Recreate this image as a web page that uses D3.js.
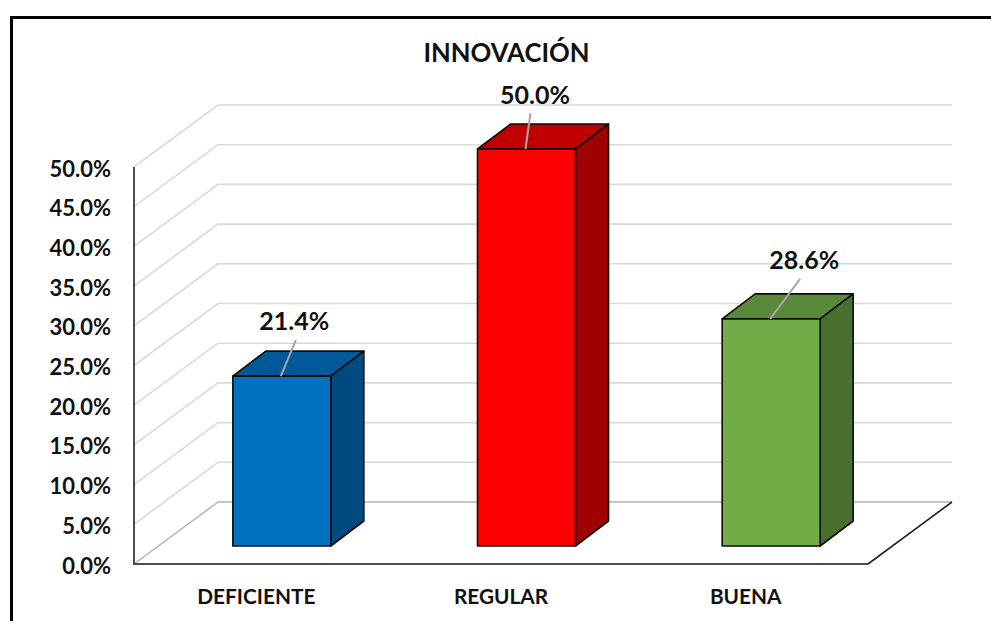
<!DOCTYPE html>
<html><head><meta charset="utf-8">
<script src="https://cdn.jsdelivr.net/npm/d3@7"></script>
<style>html,body{margin:0;padding:0;background:#fff}svg{display:block}text{font-family:Lato,"Open Sans",sans-serif;font-weight:700;fill:#111}</style>
</head><body><div id="c"></div>
<script>
const chartTitle = "INNOVACIÓN";
const categories = ["DEFICIENTE","REGULAR","BUENA"];
const values = [21.4,50.0,28.6];
const valueLabels = ["21.4%","50.0%","28.6%"];
const tickValues = [0,5,10,15,20,25,30,35,40,45,50];
const faceColors = ["#0070c0","#ff0000","#70ad47"];
const topColors = ["#005a9a","#c00000","#5a8a39"];
const sideColors = ["#004a80","#a00000","#4a7030"];

const W=991,H=621;
const svg=d3.select("#c").append("svg").attr("width",W).attr("height",H);
const x0=134,x1=868,yBase=564,yTop=167;
const depthX=84,depthY=-62;
const barDX=33,barDY=-25,barW=98;
const y=d3.scaleLinear().domain([0,50]).range([yBase,yTop]);
const x=d3.scaleBand().domain(categories).range([x0,x1]);
const g=svg.append("g");

// frame
g.append("path").attr("d",`M11.5,${H} V17.5 H${W}`).attr("fill","none").attr("stroke","#000").attr("stroke-width",3);

// gridlines
tickValues.forEach(t=>{
  const yy=y(t);
  g.append("path")
    .attr("d",`M${x0},${yy} L${x0+depthX},${yy+depthY} H${x1+depthX}`)
    .attr("fill","none")
    .attr("stroke",t===0?"#b4b4b4":"#d9d9d9")
    .attr("stroke-width",t===0?1.5:1.6);
});
// floor edge
g.append("path").attr("d",`M${x1},${yBase} L${x1+depthX},${yBase+depthY}`).attr("fill","none").attr("stroke","#222").attr("stroke-width",1.6);
// axes
g.append("path").attr("d",`M${x0},${yTop} V${yBase} H${x1}`).attr("fill","none").attr("stroke","#4d4d4d").attr("stroke-width",2);

// tick labels
g.selectAll("text.tick").data(tickValues).join("text").attr("class","tick")
  .attr("x",111).attr("y",d=>y(d)+9.5).attr("text-anchor","end").attr("font-size",22)
  .text(d=>d3.format(".1f")(d)+"%");

// category labels
g.selectAll("text.cat").data(categories).join("text").attr("class","cat")
  .attr("x",d=>x(d)+x.bandwidth()/2).attr("y",603.5).attr("text-anchor","middle").attr("font-size",20.8)
  .text(d=>d);

// bars
const barOffset=25.5, floorLift=18;
const leaderTop=[[15,-36],[5,-36],[30,-40]];
const labelPos=[[12.5,-55],[8.5,-54],[33,-58]];
categories.forEach((c,i)=>{
  const cx=x(c)+x.bandwidth()/2+barOffset;
  const l=cx-barW/2,r=cx+barW/2;
  const b=yBase-floorLift;
  const t=b-(yBase-y(values[i]));
  const stroke={stroke:"#0d0d0d","stroke-width":1.6,"stroke-linejoin":"round"};
  const poly=(d,f)=>{const p=g.append("path").attr("d",d).attr("fill",f);Object.entries(stroke).forEach(([k,v])=>p.attr(k,v));};
  poly(`M${l},${t} L${l+barDX},${t+barDY} H${r+barDX} L${r},${t} Z`,topColors[i]);
  poly(`M${r},${t} L${r+barDX},${t+barDY} V${b+barDY} L${r},${b} Z`,sideColors[i]);
  poly(`M${l},${t} H${r} V${b} H${l} Z`,faceColors[i]);
  // leader
  g.append("line").attr("x1",cx-1).attr("y1",t).attr("x2",cx-1+leaderTop[i][0]).attr("y2",t+leaderTop[i][1])
    .attr("stroke","#a6a6a6").attr("stroke-width",2);
  g.append("text").attr("x",cx+labelPos[i][0]).attr("y",t+labelPos[i][1]+8.5).attr("text-anchor","middle")
    .attr("font-size",25).text(valueLabels[i]);
});

// title
g.append("text").attr("x",506.5).attr("y",62).attr("text-anchor","middle").attr("font-size",25.7).text(chartTitle);
</script></body></html>
